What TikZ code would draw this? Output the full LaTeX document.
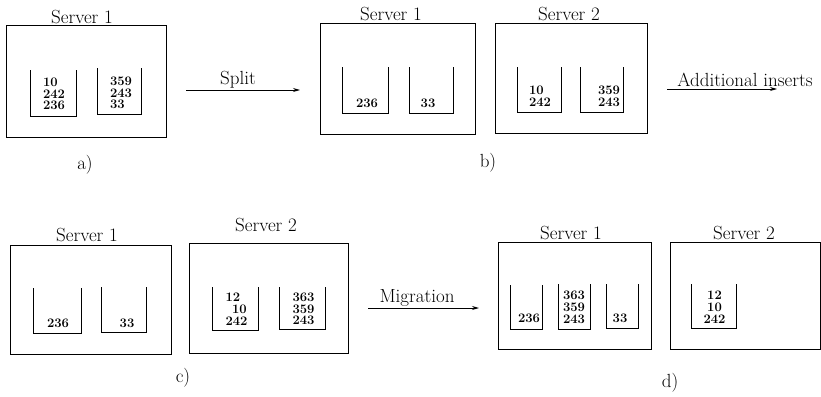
\documentclass[tikz,border=0pt]{standalone}
\usetikzlibrary{arrows.meta}
\begin{document}
\begin{tikzpicture}[x=1pt,y=-1pt,
  srv/.style={draw,line width=1pt,inner sep=0pt},
  binline/.style={line width=1pt},
  ttl/.style={inner sep=0pt,font={\fontsize{19}{21}\selectfont}},
  nums/.style={inner sep=0pt,font={\fontsize{13}{11.8}\selectfont\bfseries}},
  numsl/.style={nums,align=left},
  numsc/.style={nums,align=center},
  flow/.style={line width=0.9pt,-{Stealth[length=7pt,width=4pt]}},
  lbl/.style={inner sep=0pt,font={\fontsize{19}{21}\selectfont}}]
\useasboundingbox (0,0) rectangle (821,396);
\newcommand{\mybin}[4]{\draw[binline] (#1,#3) -- (#1,#4) -- (#2,#4) -- (#2,#3);}

% ---------- a)
\node[srv,minimum width=160pt,minimum height=111pt] (aS1) at (86,81.5) {};
\node[ttl] (aT1) at (82,17) {Server 1};
\mybin{30}{76}{70}{116}
\node[numsl] (aB1) at (54,94) {10\\242\\236};
\mybin{97}{141}{68}{114}
\node[numsl] (aB2) at (121,93) {359\\243\\33};
\coordinate (aAs) at (186,90);
\coordinate (aAe) at (300,90);
\draw[flow] (aAs) -- (aAe);
\node[lbl] (aAL) at (238,80) {Split};
\node[lbl] (aCap) at (85,165) {a)};

% ---------- b)
\node[srv,minimum width=155pt,minimum height=110pt] (bS1) at (397.5,79) {};
\node[ttl] (bT1) at (391,14) {Server 1};
\mybin{342}{388}{67}{113}
\node[nums] (bB1) at (367,103) {236};
\mybin{409}{453}{67}{113}
\node[nums] (bB2) at (428,103) {33};
\node[srv,minimum width=152pt,minimum height=109pt] (bS2) at (571,78.5) {};
\node[ttl] (bT2) at (569,14) {Server 2};
\mybin{517}{561}{67}{112}
\node[numsl] (bB3) at (540,96.5) {10\\242};
\mybin{580}{623}{67}{112}
\node[numsl] (bB4) at (609,96.5) {359\\243};
\coordinate (bAs) at (667,89);
\coordinate (bAe) at (777,89);
\draw[flow] (bAs) -- (bAe);
\node[lbl] (bAL) at (745,80) {Additional inserts};
\node[lbl] (bCap) at (488,163) {b)};

% ---------- c)
\node[srv,minimum width=161pt,minimum height=109pt] (cS1) at (90.5,299.5) {};
\node[ttl] (cT1) at (87,235) {Server 1};
\mybin{33}{81}{288}{333}
\node[nums] (cB1) at (58,323) {236};
\mybin{101}{146}{287}{332}
\node[nums] (cB2) at (127,323) {33};
\node[srv,minimum width=159pt,minimum height=110pt] (cS2) at (268.5,298) {};
\node[ttl] (cT2) at (266,225) {Server 2};
\mybin{212}{258}{287}{330}
\node[numsl] (cB3) at (236.5,309) {12\\\hspace*{0.5em}10\\242};
\mybin{279}{325}{287}{329}
\node[numsl] (cB4) at (303.5,309) {363\\359\\243};
\coordinate (cAs) at (368,308);
\coordinate (cAe) at (479,308);
\draw[flow] (cAs) -- (cAe);
\node[lbl] (cAL) at (417,298) {Migration};
\node[lbl] (cCap) at (183,378) {c)};

% ---------- d)
\node[srv,minimum width=153pt,minimum height=107pt] (dS1) at (574.5,295.5) {};
\node[ttl] (dT1) at (571,233) {Server 1};
\mybin{510}{542}{285}{329}
\node[nums] (dB1) at (529,318) {236};
\mybin{558}{590}{284}{329}
\node[numsc] (dB2) at (574,307.5) {363\\359\\243};
\mybin{606}{638}{284}{328}
\node[nums] (dB3) at (620,318) {33};
\node[srv,minimum width=150pt,minimum height=107pt] (dS2) at (745,295.5) {};
\node[ttl] (dT2) at (744,233) {Server 2};
\mybin{691}{736}{284}{328}
\node[numsc] (dB4) at (714.5,307.5) {12\\10\\242};
\node[lbl] (dCap) at (670,383) {d)};
\end{tikzpicture}
\end{document}
